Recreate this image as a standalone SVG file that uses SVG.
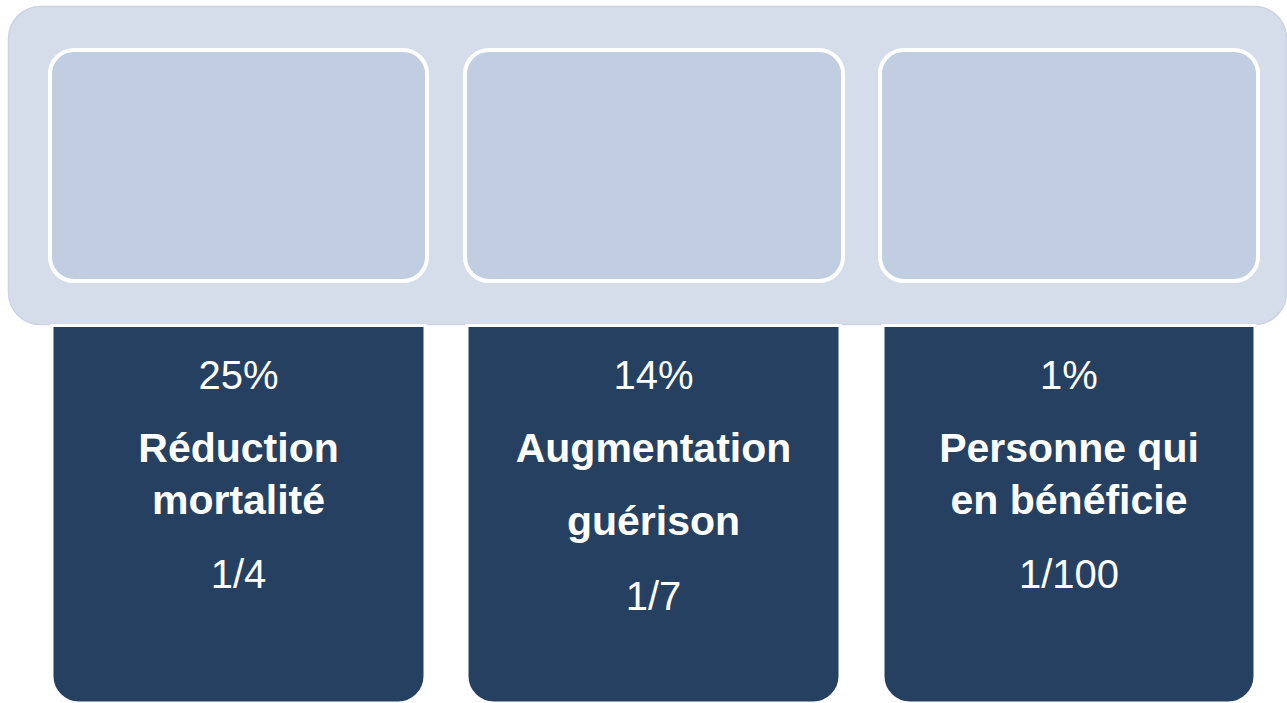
<svg xmlns="http://www.w3.org/2000/svg" width="1287" height="703" viewBox="0 0 1287 703">
  <style>
    .band { fill: #D5DCEA; stroke: #CCD4E4; stroke-width: 1.5; }
    .top { fill: #C1CDE1; stroke: #FFFFFF; stroke-width: 4; }
    .bottom { fill: #264061; stroke: #FFFFFF; stroke-width: 3; }
    .t { font-family: "Liberation Sans", Arial, sans-serif; font-size: 40px; fill: #FFFFFF; text-anchor: middle; }
    .b { font-weight: bold; font-size: 41px; }
  </style>
  <rect width="1287" height="703" fill="#FFFFFF"/>
  <g id="band">
    <rect class="band" x="8.5" y="6.5" width="1278" height="318" rx="32" ry="32"/>
  </g>
  <g id="connectors"></g>
  <g id="top1"><rect class="top" x="50" y="50" width="377" height="231" rx="24" ry="24"/></g>
  <g id="top2"><rect class="top" x="465" y="50" width="378" height="231" rx="24" ry="24"/></g>
  <g id="top3"><rect class="top" x="880" y="50" width="378" height="231" rx="24" ry="24"/></g>
  <g id="node1">
    <path class="bottom" d="M52,325.5 H425 V676 A27,27 0 0 1 398,703 H79 A27,27 0 0 1 52,676 Z"/>
    <text class="t" x="238.5" y="389">25%</text>
    <text class="t b" x="238.5" y="462">Réduction</text>
    <text class="t b" x="238.5" y="514">mortalité</text>
    <text class="t" x="238.5" y="588">1/4</text>
  </g>
  <g id="node2">
    <path class="bottom" d="M467,325.5 H840 V676 A27,27 0 0 1 813,703 H494 A27,27 0 0 1 467,676 Z"/>
    <text class="t" x="653.5" y="389">14%</text>
    <text class="t b" x="653.5" y="462">Augmentation</text>
    <text class="t b" x="653.5" y="535">guérison</text>
    <text class="t" x="653.5" y="610">1/7</text>
  </g>
  <g id="node3">
    <path class="bottom" d="M883,325.5 H1255 V676 A27,27 0 0 1 1228,703 H910 A27,27 0 0 1 883,676 Z"/>
    <text class="t" x="1069" y="389">1%</text>
    <text class="t b" x="1069" y="462">Personne qui</text>
    <text class="t b" x="1069" y="514">en bénéficie</text>
    <text class="t" x="1069" y="588">1/100</text>
  </g>
</svg>
